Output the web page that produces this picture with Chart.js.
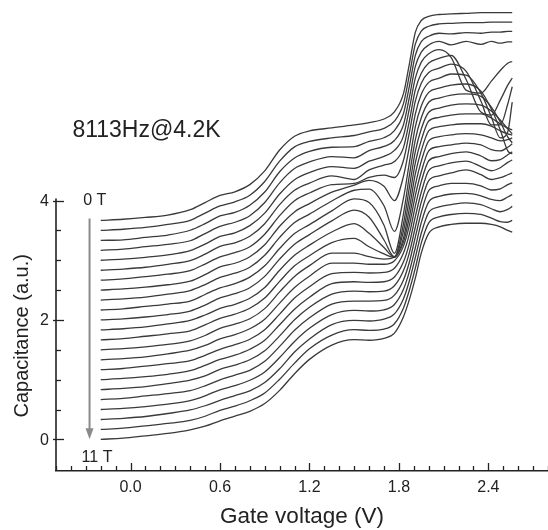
<!DOCTYPE html>
<html>
<head>
<meta charset="utf-8">
<script src="https://cdn.jsdelivr.net/npm/chart.js@4.4.1/dist/chart.umd.min.js"></script>
<style>
  html, body { margin: 0; padding: 0; background: #fff; }
  #wrap { width: 548px; height: 530px; }
</style>
</head>
<body>
<div id="wrap"><canvas id="cv" width="548" height="530"></canvas></div>
<script>
// gate voltage samples (V)
const gateV = [-0.2, -0.05, 0.1, 0.25, 0.4, 0.5, 0.6, 0.7, 0.8, 0.9, 1.0, 1.1, 1.2, 1.35, 1.5, 1.6, 1.7, 1.77,
  1.83, 1.87, 1.91, 1.95, 2.0, 2.07, 2.15, 2.25, 2.35, 2.42, 2.48, 2.53, 2.56];

// capacitance traces (a.u.), 0 T ... 11 T in 0.5 T steps, before the waterfall offset
const b00 = [0, 0.02, 0.05, 0.09, 0.18, 0.30, 0.42, 0.48, 0.60, 0.83, 1.18, 1.41, 1.50, 1.55, 1.60, 1.64, 1.70, 1.82, 2.12, 2.62, 3.15, 3.35, 3.42, 3.45, 3.46, 3.47, 3.48, 3.48, 3.48, 3.48, 3.48];
const b05 = [0, 0.02, 0.05, 0.10, 0.17, 0.29, 0.41, 0.48, 0.59, 0.82, 1.16, 1.40, 1.49, 1.55, 1.59, 1.65, 1.71, 1.83, 2.12, 2.60, 3.12, 3.34, 3.42, 3.46, 3.47, 3.48, 3.48, 3.49, 3.49, 3.49, 3.49];
const b10 = [0, 0.01, 0.05, 0.09, 0.17, 0.28, 0.41, 0.47, 0.59, 0.81, 1.15, 1.38, 1.49, 1.56, 1.57, 1.66, 1.72, 1.84, 2.12, 2.58, 3.10, 3.33, 3.42, 3.47, 3.46, 3.48, 3.47, 3.49, 3.49, 3.50, 3.50];
const b15 = [0, 0.02, 0.06, 0.10, 0.16, 0.28, 0.40, 0.47, 0.58, 0.80, 1.13, 1.37, 1.48, 1.57, 1.55, 1.67, 1.74, 1.84, 2.10, 2.56, 3.08, 3.32, 3.44, 3.50, 3.44, 3.50, 3.45, 3.50, 3.47, 3.49, 3.49];
const b20 = [0, 0.02, 0.05, 0.09, 0.16, 0.27, 0.40, 0.46, 0.58, 0.79, 1.11, 1.35, 1.47, 1.57, 1.54, 1.66, 1.74, 1.84, 2.08, 2.54, 3.05, 3.32, 3.46, 3.53, 3.40, 2.85, 2.80, 3.00, 3.18, 3.30, 3.33];
const b25 = [0, 0.02, 0.05, 0.10, 0.16, 0.27, 0.40, 0.46, 0.57, 0.78, 1.10, 1.34, 1.46, 1.58, 1.52, 1.68, 1.76, 1.82, 2.05, 2.50, 3.02, 3.30, 3.47, 3.55, 3.60, 3.20, 2.65, 2.60, 2.85, 3.10, 3.22];
const b30 = [0, 0.02, 0.06, 0.10, 0.16, 0.27, 0.39, 0.46, 0.56, 0.77, 1.08, 1.33, 1.46, 1.60, 1.62, 1.72, 1.76, 1.72, 2.00, 2.47, 3.00, 3.30, 3.48, 3.55, 3.62, 3.50, 3.00, 2.60, 2.60, 2.95, 3.24];
const b35 = [0, 0.02, 0.05, 0.09, 0.15, 0.26, 0.39, 0.45, 0.56, 0.76, 1.07, 1.31, 1.45, 1.64, 1.76, 1.84, 1.74, 1.50, 1.90, 2.40, 2.95, 3.28, 3.48, 3.55, 3.62, 3.60, 3.30, 2.90, 2.55, 2.65, 3.15];
const b40 = [0, 0.02, 0.05, 0.10, 0.16, 0.26, 0.38, 0.45, 0.55, 0.75, 1.05, 1.30, 1.44, 1.66, 1.84, 1.86, 1.58, 1.15, 1.70, 2.30, 2.90, 3.25, 3.48, 3.55, 3.60, 3.62, 3.50, 3.20, 2.85, 2.50, 2.45];
const b45 = [0, 0.02, 0.06, 0.10, 0.15, 0.26, 0.37, 0.44, 0.55, 0.74, 1.03, 1.28, 1.43, 1.66, 1.86, 1.80, 1.42, 0.95, 1.60, 2.25, 2.85, 3.22, 3.48, 3.55, 3.60, 3.62, 3.58, 3.40, 3.15, 2.90, 2.80];
const b50 = [0, 0.02, 0.05, 0.09, 0.15, 0.25, 0.37, 0.44, 0.54, 0.73, 1.02, 1.27, 1.43, 1.66, 1.84, 1.72, 1.34, 1.06, 1.60, 2.22, 2.82, 3.20, 3.48, 3.55, 3.60, 3.62, 3.60, 3.50, 3.35, 3.20, 3.12];
const b55 = [0, 0.02, 0.05, 0.10, 0.16, 0.25, 0.36, 0.43, 0.53, 0.71, 1.00, 1.25, 1.42, 1.64, 1.78, 1.62, 1.38, 1.22, 1.65, 2.20, 2.80, 3.18, 3.50, 3.56, 3.60, 3.62, 3.62, 3.55, 3.45, 3.38, 3.35];
const b60 = [0, 0.02, 0.06, 0.10, 0.15, 0.25, 0.36, 0.43, 0.53, 0.70, 0.98, 1.24, 1.41, 1.63, 1.70, 1.56, 1.44, 1.38, 1.70, 2.20, 2.78, 3.17, 3.50, 3.57, 3.60, 3.62, 3.62, 3.58, 3.50, 3.45, 3.43];
const b65 = [0, 0.02, 0.05, 0.09, 0.15, 0.24, 0.36, 0.43, 0.52, 0.69, 0.97, 1.23, 1.41, 1.62, 1.62, 1.56, 1.52, 1.55, 1.80, 2.22, 2.76, 3.16, 3.50, 3.57, 3.60, 3.62, 3.60, 3.55, 3.50, 3.52, 3.55];
const b70 = [0, 0.02, 0.05, 0.10, 0.16, 0.24, 0.35, 0.42, 0.52, 0.68, 0.95, 1.21, 1.40, 1.62, 1.62, 1.60, 1.60, 1.66, 1.90, 2.25, 2.75, 3.15, 3.50, 3.57, 3.60, 3.63, 3.60, 3.52, 3.50, 3.56, 3.62];
const b75 = [0, 0.02, 0.06, 0.10, 0.15, 0.24, 0.34, 0.42, 0.51, 0.67, 0.93, 1.20, 1.39, 1.61, 1.63, 1.62, 1.63, 1.70, 1.95, 2.27, 2.74, 3.15, 3.50, 3.57, 3.62, 3.65, 3.58, 3.50, 3.52, 3.60, 3.65];
const b80 = [0, 0.02, 0.05, 0.09, 0.15, 0.24, 0.34, 0.41, 0.51, 0.66, 0.92, 1.18, 1.38, 1.61, 1.64, 1.63, 1.64, 1.72, 1.97, 2.28, 2.73, 3.14, 3.50, 3.58, 3.63, 3.66, 3.57, 3.50, 3.55, 3.64, 3.68];
const b85 = [0, 0.02, 0.05, 0.10, 0.16, 0.23, 0.34, 0.41, 0.50, 0.65, 0.90, 1.17, 1.38, 1.60, 1.65, 1.64, 1.65, 1.74, 1.99, 2.29, 2.72, 3.14, 3.50, 3.58, 3.63, 3.68, 3.60, 3.52, 3.55, 3.60, 3.63];
const b90 = [0, 0.02, 0.06, 0.10, 0.15, 0.23, 0.33, 0.41, 0.49, 0.64, 0.89, 1.16, 1.37, 1.60, 1.65, 1.65, 1.66, 1.75, 2.00, 2.30, 2.72, 3.13, 3.50, 3.58, 3.62, 3.62, 3.58, 3.51, 3.53, 3.60, 3.63];
const b95 = [0, 0.02, 0.05, 0.09, 0.15, 0.23, 0.33, 0.40, 0.49, 0.63, 0.87, 1.14, 1.36, 1.59, 1.66, 1.65, 1.67, 1.76, 2.01, 2.31, 2.71, 3.13, 3.48, 3.57, 3.61, 3.62, 3.58, 3.52, 3.50, 3.56, 3.60];
const b100 = [0, 0.02, 0.05, 0.10, 0.16, 0.23, 0.32, 0.40, 0.48, 0.62, 0.85, 1.13, 1.35, 1.59, 1.66, 1.65, 1.68, 1.77, 2.02, 2.32, 2.71, 3.12, 3.47, 3.56, 3.60, 3.63, 3.60, 3.53, 3.48, 3.52, 3.57];
const b105 = [0, 0.02, 0.06, 0.10, 0.15, 0.22, 0.32, 0.39, 0.48, 0.61, 0.84, 1.11, 1.35, 1.58, 1.67, 1.66, 1.68, 1.77, 2.03, 2.33, 2.70, 3.12, 3.46, 3.56, 3.60, 3.62, 3.60, 3.54, 3.48, 3.47, 3.50];
const b110 = [0, 0.02, 0.06, 0.10, 0.16, 0.22, 0.31, 0.39, 0.47, 0.60, 0.82, 1.10, 1.34, 1.58, 1.67, 1.66, 1.69, 1.78, 2.05, 2.34, 2.70, 3.12, 3.45, 3.56, 3.60, 3.62, 3.62, 3.60, 3.56, 3.50, 3.47];

const traces = [b00, b05, b10, b15, b20, b25, b30, b35, b40, b45, b50, b55, b60, b65, b70, b75, b80, b85, b90, b95, b100, b105, b110];
// vertical shift of each trace in the waterfall
const traceOffset = [3.667, 3.5, 3.333, 3.167, 3.0, 2.833, 2.667, 2.5, 2.333, 2.167, 2.0, 1.833, 1.667, 1.5, 1.333, 1.167, 1.0, 0.833, 0.667, 0.5, 0.333, 0.167, 0];

const yTickLabels = [0, 2, 4];
const FONT = "'Liberation Sans', Arial, sans-serif";

const datasets = traces.map((tr, i) => ({
    label: (i * 0.5) + ' T',
    data: tr.map((c, k) => ({ x: gateV[k], y: c + traceOffset[i] })),
    borderColor: '#3a3a3a',
    borderWidth: 1.3,
    pointRadius: 0,
    fill: false,
    cubicInterpolationMode: 'monotone'
}));

// axes, arrow and labels the way the figure has them
const figureDecor = {
    id: 'figureDecor',
    afterDraw(chart) {
        const ctx = chart.ctx;
        const xs = chart.scales.x, ys = chart.scales.y;
        const area = chart.chartArea;
        const x0 = area.left, yb = area.bottom;
        ctx.save();
        ctx.strokeStyle = '#222';
        ctx.fillStyle = '#222';

        // y axis line stops at 4
        ctx.lineWidth = 1.6;
        ctx.beginPath();
        ctx.moveTo(x0, yb);
        ctx.lineTo(x0, ys.getPixelForValue(4) - 2);
        ctx.stroke();

        // y ticks every 0.5, major ones cross the axis
        ctx.lineWidth = 1.3;
        for (let v = 0; v <= 4.001; v += 0.5) {
            const py = Math.round(ys.getPixelForValue(v)) + 0.5;
            const major = yTickLabels.includes(Math.round(v * 10) / 10);
            ctx.beginPath();
            ctx.moveTo(major ? x0 - 3 : x0, py);
            ctx.lineTo(x0 + (major ? 8 : 5), py);
            ctx.stroke();
        }
        ctx.font = '16px ' + FONT;
        ctx.textAlign = 'right';
        ctx.textBaseline = 'middle';
        yTickLabels.forEach(v => ctx.fillText(String(v), x0 - 7, ys.getPixelForValue(v) + 1));

        // y title centred on the drawn part of the axis
        ctx.save();
        ctx.translate(22, (yb + ys.getPixelForValue(4)) / 2);
        ctx.rotate(-Math.PI / 2);
        ctx.textAlign = 'center';
        ctx.textBaseline = 'middle';
        ctx.font = '20px ' + FONT;
        ctx.fillText('Capacitance (a.u.)', 0, 0);
        ctx.restore();

        // x ticks point inwards
        xs.ticks.forEach(t => {
            const k = Math.round(t.value * 10);
            const px = Math.round(xs.getPixelForValue(t.value)) + 0.5;
            const major = k >= 0 && k % 6 === 0;
            ctx.beginPath();
            ctx.moveTo(px, yb);
            ctx.lineTo(px, yb - (major ? 8 : 5));
            ctx.stroke();
        });

        // field arrow
        const ax = xs.getPixelForValue(-0.275);
        const aTop = ys.getPixelForValue(3.7), aTip = ys.getPixelForValue(0.0);
        ctx.strokeStyle = '#8a8a8a';
        ctx.fillStyle = '#8a8a8a';
        ctx.lineWidth = 2;
        ctx.beginPath();
        ctx.moveTo(ax, aTop);
        ctx.lineTo(ax, aTip - 8);
        ctx.stroke();
        ctx.beginPath();
        ctx.moveTo(ax, aTip);
        ctx.lineTo(ax - 4, aTip - 11);
        ctx.lineTo(ax + 4, aTip - 11);
        ctx.closePath();
        ctx.fill();

        ctx.fillStyle = '#222';
        ctx.font = '16px ' + FONT;
        ctx.textAlign = 'center';
        ctx.textBaseline = 'middle';
        ctx.fillText('0 T', xs.getPixelForValue(-0.24), ys.getPixelForValue(4.0));
        ctx.fillText('11 T', xs.getPixelForValue(-0.225), ys.getPixelForValue(-0.31));

        ctx.font = '23px ' + FONT;
        ctx.textAlign = 'left';
        ctx.textBaseline = 'alphabetic';
        ctx.fillText('8113Hz@4.2K', xs.getPixelForValue(-0.39), ys.getPixelForValue(5.07));
        ctx.restore();
    }
};

new Chart(document.getElementById('cv'), {
    type: 'line',
    data: { datasets: datasets },
    options: {
        responsive: false,
        animation: false,
        devicePixelRatio: 1,
        layout: { padding: { left: 56, right: 0, top: 0, bottom: 0 } },
        plugins: { legend: { display: false }, tooltip: { enabled: false } },
        scales: {
            x: {
                type: 'linear', min: -0.5, max: 2.8,
                afterFit: (s) => { s.paddingLeft = 0; s.paddingRight = 0; s.height = 59; },
                grid: { display: false, drawTicks: false, tickLength: 0 },
                border: { display: true, color: '#222', width: 1.6 },
                ticks: {
                    stepSize: 0.1, autoSkip: false, maxRotation: 0, padding: 7, color: '#222',
                    font: { size: 16, family: FONT },
                    callback: (v) => {
                        const k = Math.round(v * 10);
                        return (k >= 0 && k % 6 === 0) ? (k / 10).toFixed(1) : '';
                    }
                },
                title: { display: true, text: 'Gate voltage (V)', color: '#222', font: { size: 22.5, family: FONT }, padding: { top: 6, bottom: 0 } }
            },
            y: { type: 'linear', display: false, min: -0.53, max: 7.36 }
        }
    },
    plugins: [figureDecor]
});
</script>
</body>
</html>
